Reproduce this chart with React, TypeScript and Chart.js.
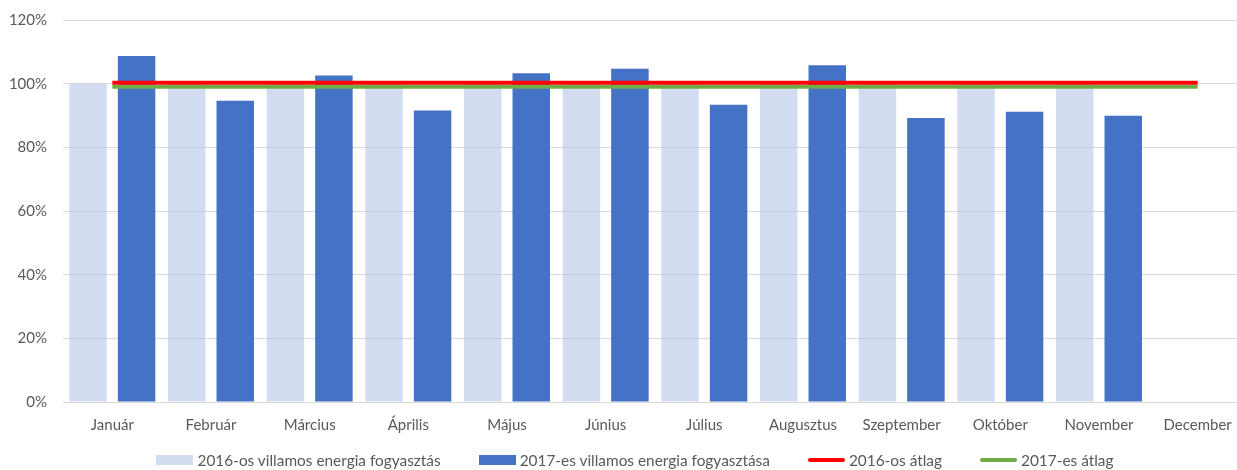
import React, { useEffect, useRef } from "react";
import { Chart, registerables } from "chart.js";

Chart.register(...registerables);

const months = [
  "Január", "Február", "Március", "Április", "Május", "Június",
  "Július", "Augusztus", "Szeptember", "Október", "November", "December",
];
const consumption2016 = [100, 100, 100, 100, 100, 100, 100, 100, 100, 100, 100, null];
const consumption2017 = [108.7, 94.6, 102.6, 91.6, 103.3, 104.7, 93.4, 105.8, 89.2, 91.2, 89.9, null];
const average2016 = [100.3, 100.3, 100.3, 100.3, 100.3, 100.3, 100.3, 100.3, 100.3, 100.3, 100.3, 100.3];
const average2017 = [99.0, 99.0, 99.0, 99.0, 99.0, 99.0, 99.0, 99.0, 99.0, 99.0, 99.0, 99.0];
const yTicks = [0, 20, 40, 60, 80, 100, 120];

const seriesNames = [
  "2016-os villamos energia fogyasztás",
  "2017-es villamos energia fogyasztása",
  "2016-os átlag",
  "2017-es átlag",
];

const FONT = "Lato, 'Noto Sans', sans-serif";
const TEXT = "#595959";
const LIGHT = "rgba(180,199,231,0.6)";
const DARK = "#4472C4";
const RED = "#FF0000";
const GREEN = "#70AD47";

export default function App() {
  const ref = useRef<HTMLCanvasElement | null>(null);

  useEffect(() => {
    if (!ref.current) return;
    const chart = new Chart(ref.current, {
      type: "bar",
      data: {
        labels: months,
        datasets: [
          {
            type: "line",
            label: seriesNames[2],
            data: average2016,
            borderColor: RED,
            backgroundColor: RED,
            borderWidth: 4,
            pointRadius: 0,
            order: 0,
          },
          {
            type: "line",
            label: seriesNames[3],
            data: average2017,
            borderColor: GREEN,
            backgroundColor: GREEN,
            borderWidth: 4,
            pointRadius: 0,
            order: 1,
          },
          {
            type: "bar",
            label: seriesNames[0],
            data: consumption2016,
            backgroundColor: LIGHT,
            categoryPercentage: 0.983,
            barPercentage: 0.773,
            order: 2,
          },
          {
            type: "bar",
            label: seriesNames[1],
            data: consumption2017,
            backgroundColor: DARK,
            categoryPercentage: 0.983,
            barPercentage: 0.773,
            order: 3,
          },
        ] as any,
      },
      options: {
        responsive: false,
        animation: false,
        layout: { padding: { top: 6, right: 13, bottom: 25, left: 0 } },
        plugins: {
          legend: { display: false },
          tooltip: { enabled: false },
        },
        scales: {
          x: {
            grid: { display: false },
            border: { display: false },
            ticks: {
              color: TEXT,
              font: { family: FONT, size: 15 },
              padding: 6,
              maxRotation: 0,
              autoSkip: false,
            },
          },
          y: {
            min: 0,
            max: 120,
            afterBuildTicks: (scale: any) => {
              scale.ticks = yTicks.map((v) => ({ value: v }));
            },
            afterFit: (scale: any) => {
              scale.width = 63;
            },
            grid: { color: "#D9D9D9", lineWidth: 1, drawTicks: false },
            border: { display: false },
            ticks: {
              color: TEXT,
              font: { family: FONT, size: 15 },
              padding: 16,
              callback: (v: any) => v + "%",
            },
          },
        },
      },
    });
    return () => chart.destroy();
  }, []);

  const swatch = (i: number) => {
    if (i < 2) {
      return (
        <span
          style={{
            display: "inline-block",
            width: 37,
            height: 10,
            background: i === 0 ? "#D2DDF1" : DARK,
          }}
        />
      );
    }
    return (
      <span
        style={{
          display: "inline-block",
          width: 37,
          height: 4,
          borderRadius: 2,
          background: i === 2 ? RED : GREEN,
        }}
      />
    );
  };

  return (
    <div
      style={{
        position: "absolute",
        left: 0,
        top: 0,
        width: 1237,
        height: 470,
        overflow: "hidden",
        background: "#fff",
      }}
    >
      <canvas
        ref={ref}
        width={1260}
        height={470}
        style={{ display: "block", position: "absolute", left: 0, top: -5 }}
      />
      <div
        style={{
          position: "absolute",
          left: 0,
          top: 451,
          width: 1270,
          display: "flex",
          justifyContent: "center",
          alignItems: "center",
          gap: 38,
          fontFamily: FONT,
          fontSize: 15.4,
          color: TEXT,
          lineHeight: "18px",
          whiteSpace: "nowrap",
        }}
      >
        {seriesNames.map((name, i) => (
          <span key={i} style={{ display: "flex", alignItems: "center", gap: 4 }}>
            {swatch(i)}
            <span>{name}</span>
          </span>
        ))}
      </div>
    </div>
  );
}
